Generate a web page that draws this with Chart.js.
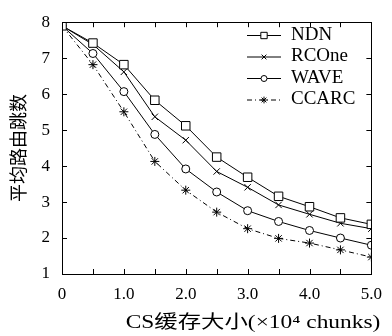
<!DOCTYPE html>
<html>
<head>
<meta charset="utf-8">
<script src="https://cdn.jsdelivr.net/npm/chart.js@4.4.0/dist/chart.umd.min.js"></script>
<style>
  html, body { margin: 0; padding: 0; background: #fff; }
  #wrap { width: 392px; height: 336px; }
</style>
</head>
<body>
<div id="wrap"><canvas id="chart"></canvas></div>
<script>
// values
const cacheSizes = [0, 0.5, 1.0, 1.5, 2.0, 2.5, 3.0, 3.5, 4.0, 4.5, 5.0];
const ndn   = [7.9, 7.42, 6.82, 5.83, 5.12, 4.25, 3.69, 3.16, 2.87, 2.56, 2.38];
const rcone = [7.9, 7.38, 6.62, 5.37, 4.72, 3.85, 3.41, 2.92, 2.66, 2.41, 2.26];
const wave  = [7.9, 7.13, 6.07, 4.88, 3.92, 3.28, 2.76, 2.46, 2.21, 2.00, 1.80];
const ccarc = [7.9, 6.82, 5.51, 4.13, 3.33, 2.72, 2.26, 1.99, 1.86, 1.67, 1.47];
const seriesNames = ['NDN', 'RCOne', 'WAVE', 'CCARC'];
const xLabelTicks = [0, 1, 2, 3, 4, 5];
const xTitle = 'CS缓存大小(×10⁴ chunks)';
const yTitle = '平均路由跳数';

const serif = "'Liberation Serif', 'Noto Sans CJK SC', serif";

function makeSet(label, values, style, radius, dash) {
    return {
        label: label,
        data: values.map((v, i) => ({ x: cacheSizes[i], y: v })),
        borderColor: '#000',
        borderWidth: 1,
        borderDash: dash || [],
        pointStyle: style,
        pointRadius: radius,
        pointBorderColor: '#000',
        pointBackgroundColor: '#fff',
        pointBorderWidth: 1,
        tension: 0
    };
}

// inward ticks + box frame
const framePlugin = {
    id: 'frame',
    afterDraw(chart) {
        const { ctx, chartArea: a, scales: { x, y } } = chart;
        ctx.save();
        ctx.strokeStyle = '#000';
        ctx.lineWidth = 1;
        ctx.strokeRect(Math.round(a.left) + 0.5, Math.round(a.top) + 0.5,
            Math.round(a.right - a.left), Math.round(a.bottom - a.top));
        ctx.beginPath();
        x.ticks.forEach(t => {
            const px = Math.round(x.getPixelForValue(t.value)) + 0.5;
            ctx.moveTo(px, a.bottom); ctx.lineTo(px, a.bottom - 5);
            ctx.moveTo(px, a.top); ctx.lineTo(px, a.top + 5);
        });
        y.ticks.forEach(t => {
            const py = Math.round(y.getPixelForValue(t.value)) + 0.5;
            ctx.moveTo(a.left, py); ctx.lineTo(a.left + 5, py);
            ctx.moveTo(a.right, py); ctx.lineTo(a.right - 5, py);
        });
        ctx.stroke();

        // axis titles
        ctx.fillStyle = '#000';
        ctx.textBaseline = 'middle';
        ctx.textAlign = 'center';
        ctx.save();
        ctx.translate(253, 323);
        ctx.scale(1.3, 1);
        ctx.font = '18px ' + serif;
        ctx.fillText(xTitle, 0, 0);
        ctx.restore();

        ctx.save();
        ctx.translate(18, (a.top + a.bottom) / 2);
        ctx.rotate(-Math.PI / 2);
        ctx.font = "18px 'Noto Sans CJK SC', sans-serif";
        ctx.fillText(yTitle, 0, 0);
        ctx.restore();

        // legend: line sample with marker
        const rows = [35, 56.5, 78, 99.5];
        chart.data.datasets.forEach((ds, i) => {
            const yy = rows[i] + 0.5;
            ctx.save();
            ctx.setLineDash(ds.borderDash);
            ctx.beginPath();
            ctx.moveTo(247, yy); ctx.lineTo(281, yy);
            ctx.stroke();
            ctx.setLineDash([]);
            ctx.fillStyle = '#fff';
            Chart.helpers.drawPoint(ctx, {
                pointStyle: ds.pointStyle, radius: ds.pointRadius * 0.75,
                rotation: 0, borderWidth: 1
            }, 264, yy);
            ctx.restore();
            ctx.font = '19px ' + serif;
            ctx.textAlign = 'left';
            ctx.fillText(ds.label, 291, rows[i]);
        });
        ctx.restore();
    }
};

new Chart(document.getElementById('chart'), {
    type: 'line',
    data: {
        datasets: [
            makeSet(seriesNames[0], ndn, 'rect', 6),
            makeSet(seriesNames[1], rcone, 'crossRot', 4.5),
            makeSet(seriesNames[2], wave, 'circle', 4),
            makeSet(seriesNames[3], ccarc, 'star', 4.5, [5, 3, 1, 3])
        ]
    },
    options: {
        responsive: true,
        maintainAspectRatio: false,
        animation: false,
        layout: { padding: { top: 14, right: 15, left: 0, bottom: 0 } },
        plugins: { legend: { display: false }, tooltip: { enabled: false } },
        scales: {
            x: {
                type: 'linear',
                min: 0, max: 5,
                grid: { display: false, drawTicks: false },
                border: { display: false },
                afterFit: s => { s.height = 62; },
                ticks: {
                    stepSize: 0.5,
                    padding: 10,
                    color: '#000',
                    maxRotation: 0,
                    autoSkip: false,
                    font: { family: serif, size: 17 },
                    callback: v => xLabelTicks.includes(v) ? (v === 0 ? '0' : v.toFixed(1)) : ''
                }
            },
            y: {
                min: 1, max: 8,
                grid: { display: false, drawTicks: false },
                border: { display: false },
                afterFit: s => { s.width = 62; },
                ticks: {
                    stepSize: 1,
                    padding: 12,
                    color: '#000',
                    font: { family: serif, size: 17 }
                }
            }
        }
    },
    plugins: [framePlugin]
});
</script>
</body>
</html>
